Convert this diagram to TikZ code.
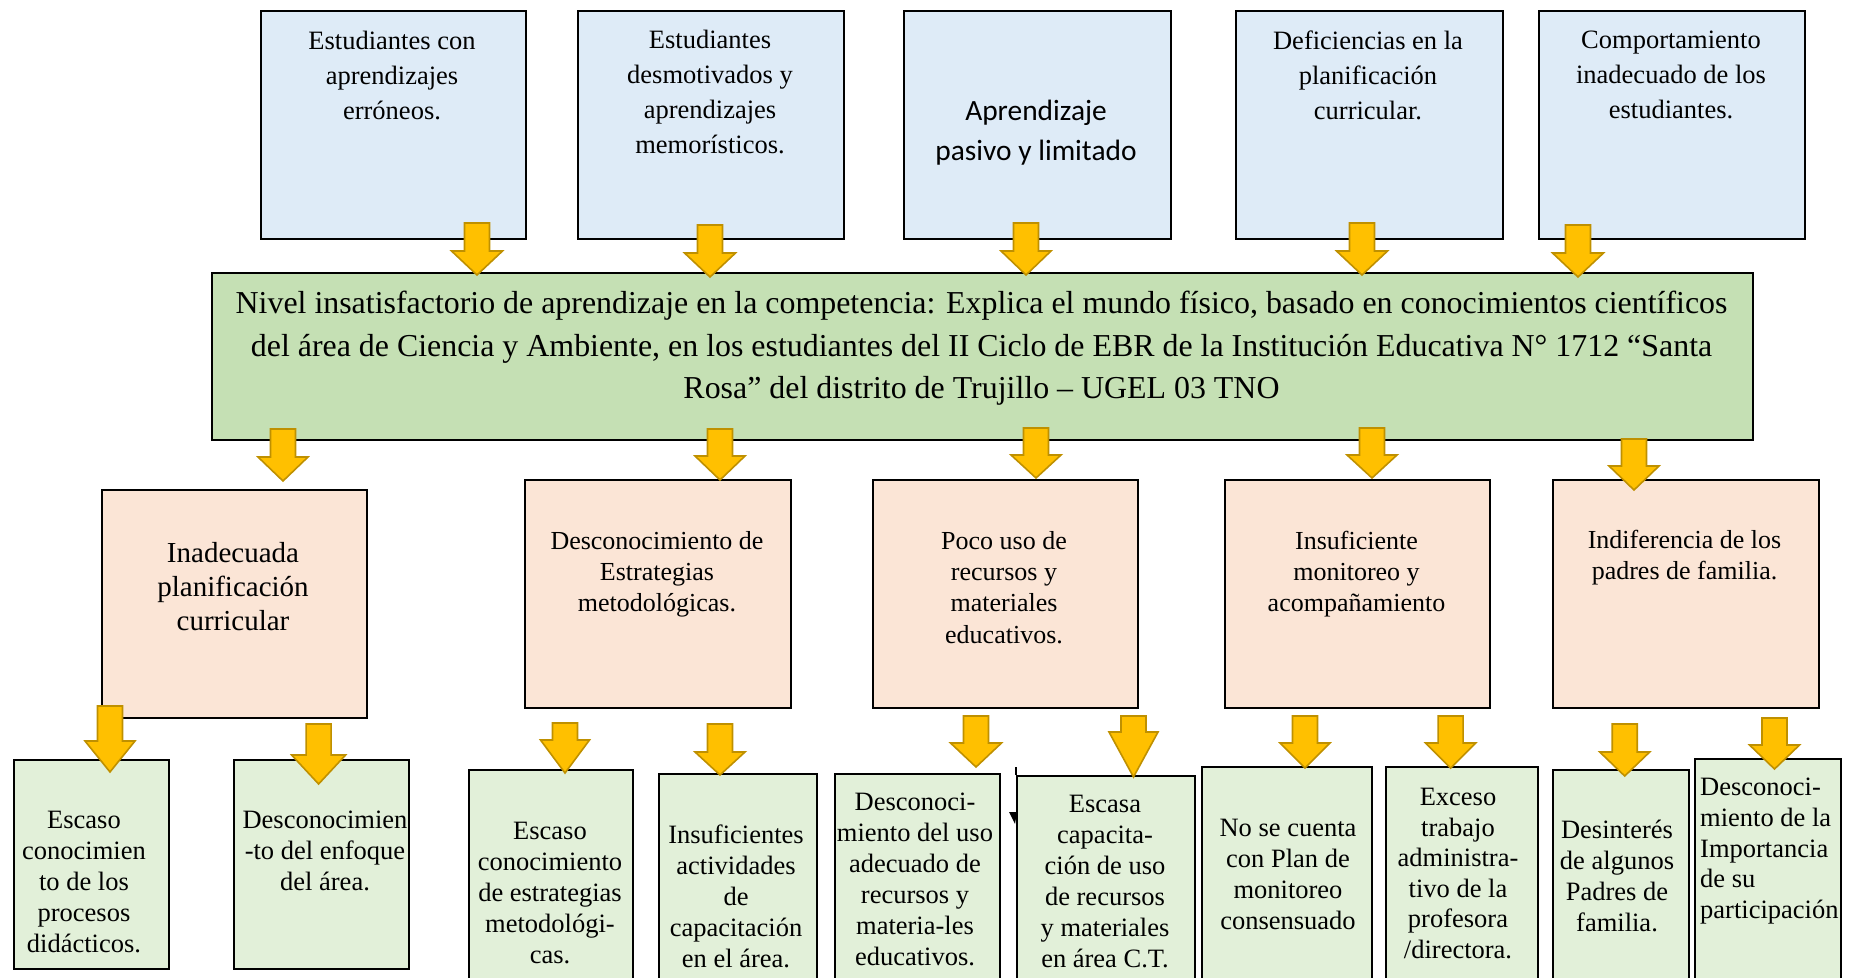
\documentclass[tikz,border=0pt]{standalone}
\usepackage{fontspec}
\setmainfont{Liberation Serif}
\newfontfamily\carlito{Carlito}
\usepackage{tikz}
\usetikzlibrary{positioning}
\definecolor{azulclaro}{HTML}{DEEBF7}
\definecolor{verdemedio}{HTML}{C5E0B4}
\definecolor{salmon}{HTML}{FBE5D6}
\definecolor{verdeclaro}{HTML}{E2F0D9}
\definecolor{oro}{HTML}{FFC000}
\definecolor{orooscuro}{HTML}{BF9000}
\tikzset{
  caja/.style={rectangle, draw=black, line width=2.2pt, inner sep=0pt, anchor=north west},
  efecto/.style={caja, fill=azulclaro, minimum height=228pt},
  problema/.style={caja, fill=verdemedio},
  causa/.style={caja, fill=salmon, minimum height=228pt},
  subcausa/.style={caja, fill=verdeclaro},
  txt/.style={align=center, inner sep=0pt, font=\fontsize{26.5}{31}\selectfont},
  flecha/.style={fill=oro, draw=orooscuro, line width=1.6pt, line join=miter},
}

\begin{document}
\begin{tikzpicture}[
    x=1pt, y=-1pt,
    txtsup/.style={txt, font=\fontsize{26.5}{35}\selectfont},
    txtcausa/.style={txt, font=\fontsize{26}{31.2}\selectfont},
  ]
  \useasboundingbox (0,0) rectangle (1851,977);
  % efectos (fila superior)
  \node[efecto, minimum width=265pt] (e1) at (260,10) {};
  \node[efecto, minimum width=266pt] (e2) at (577,10) {};
  \node[efecto, minimum width=267pt] (e3) at (903,10) {};
  \node[efecto, minimum width=267pt] (e4) at (1235,10) {};
  \node[efecto, minimum width=266pt] (e5) at (1538,10) {};
  \node[txtsup] (te1) at (392,75) {Estudiantes con\\aprendizajes\\erróneos.};
  \node[txtsup] (te2) at (710,92) {Estudiantes\\desmotivados y\\aprendizajes\\memorísticos.};
  \node[txt, font=\carlito\fontsize{29.4}{40}\selectfont] (te3) at (1036,133) {Aprendizaje\\pasivo y limitado};
  \node[txtsup] (te4) at (1368,75) {Deficiencias en la\\planificación\\curricular.};
  \node[txtsup] (te5) at (1671,75) {Comportamiento\\inadecuado de los\\estudiantes.};
  % problema central
  \node[problema, minimum width=1541pt, minimum height=167pt] (prob) at (211,272) {};
  \node[txt, font=\fontsize{31.9}{42.5}\selectfont] (tprob) at (981.5,348.5)
    {Nivel insatisfactorio de aprendizaje en la competencia: Explica el mundo físico, basado en conocimientos científicos\\
     del área de Ciencia y Ambiente, en los estudiantes del II Ciclo de EBR de la Institución Educativa N° 1712 “Santa\\
     Rosa” del distrito de Trujillo – UGEL 03 TNO};
  % causas
  \node[causa, minimum width=265.5pt] (c1) at (100.5,489) {};
  \node[causa, minimum width=266pt] (c2) at (524,479) {};
  \node[causa, minimum width=264.5pt] (c3) at (872,479) {};
  \node[causa, minimum width=265pt] (c4) at (1224,479) {};
  \node[causa, minimum width=265.5pt] (c5) at (1552,479) {};
  \node[txt, font=\fontsize{29}{34}\selectfont] (tc1) at (233,586.5) {Inadecuada\\planificación\\curricular};
  \node[txtcausa] (tc2) at (657,574) {Desconocimiento de\\Estrategias\\metodológicas.};
  \node[txtcausa] (tc3) at (1004,587.5) {Poco uso de\\recursos y\\materiales\\educativos.};
  \node[txtcausa] (tc4) at (1356.5,574) {Insuficiente\\monitoreo y\\acompañamiento};
  \node[txtcausa] (tc5) at (1684.5,558) {Indiferencia de los\\padres de familia.};
  % subcausas
  \node[subcausa, minimum width=155pt, minimum height=209pt] (s1) at (13,759) {};
  \node[subcausa, minimum width=175pt, minimum height=209pt] (s2) at (233,759) {};
  \node[subcausa, minimum width=164pt, minimum height=230pt] (s3) at (468,769) {};
  \node[subcausa, minimum width=158pt, minimum height=230pt] (s4) at (658,773) {};
  \node[subcausa, minimum width=165.5pt, minimum height=230pt] (s5) at (833.5,773) {};
  \node[subcausa, minimum width=178pt, minimum height=230pt] (s6) at (1016,775) {};
  \node[subcausa, minimum width=169.5pt, minimum height=230pt] (s7) at (1201,766) {};
  \node[subcausa, minimum width=152pt, minimum height=230pt] (s8) at (1385,766) {};
  \node[subcausa, minimum width=136pt, minimum height=230pt] (s9) at (1552,769) {};
  \node[subcausa, minimum width=146pt, minimum height=240pt] (s10) at (1694,758) {};
  \draw[line width=2.2pt] (s6.north west) -- ++(0,-8);
  \fill (1009,812) -- (1017,812) -- (1015,824) -- cycle;
  \node[txt] (ts1) at (84,881.6) {Escaso\\conocimien\\to de los\\procesos\\didácticos.};
  \node[txt] (ts2) at (325,851) {Desconocimien\\-to del enfoque\\del área.};
  \node[txt] (ts3) at (550,892.6) {Escaso\\conocimiento\\de estrategias\\metodológi-\\cas.};
  \node[txt] (ts4) at (736,896.8) {Insuficientes\\actividades\\de\\capacitación\\en el área.};
  \node[txt] (ts5) at (915,879.3) {Desconoci-\\miento del uso\\adecuado de\\recursos y\\materia-les\\educativos.};
  \node[txt] (ts6) at (1105,881.7) {Escasa\\capacita-\\ción de uso\\de recursos\\y materiales\\en área C.T.};
  \node[txt] (ts7) at (1288,874.7) {No se cuenta\\con Plan de\\monitoreo\\consensuado};
  \node[txt, font=\fontsize{26.5}{30.5}\selectfont] (ts8) at (1458,873.7) {Exceso\\trabajo\\administra-\\tivo de la\\profesora\\/directora.};
  \node[txt] (ts9) at (1617,876.2) {Desinterés\\de algunos\\Padres de\\familia.};
  \node[txt, align=left, anchor=west, font=\fontsize{26.5}{30.7}\selectfont] (ts10) at (1700,851.3)
    {Desconoci-\\miento de la\\Importancia\\de su\\participación};
  % flechas de bloque: x / inicio / hombro / punta / media cabeza
  \foreach \x/\a/\c/\b/\w in {
      477/223/251/275/25.5, 710/225/253/277/25.5, 1026/223/251/275/25,
      1362/223/251/275/25.5, 1578/225/253/277/25.5,
      283/429/457/481/25, 720/429/456/480/25, 1036/428/455/478/25,
      1372/428/455/478/25, 1634/439/466/490/25,
      110/706/741/772/25, 318.6/724/755/784/27, 565/723/740/773/24.5,
      720/724/752/775/25, 976/716/743/767/25.5, 1133.5/716/732/777/24.5,
      1305/716/743/768/25, 1450.6/716/743/768/25, 1624.7/724/752/776/25,
      1774.5/718/745/769/25}
    \draw[flecha] (\x-12.5,\a) -- (\x+12.5,\a) -- (\x+12.5,\c) -- (\x+\w,\c)
      -- (\x,\b) -- (\x-\w,\c) -- (\x-12.5,\c) -- cycle;
\end{tikzpicture}
\end{document}
